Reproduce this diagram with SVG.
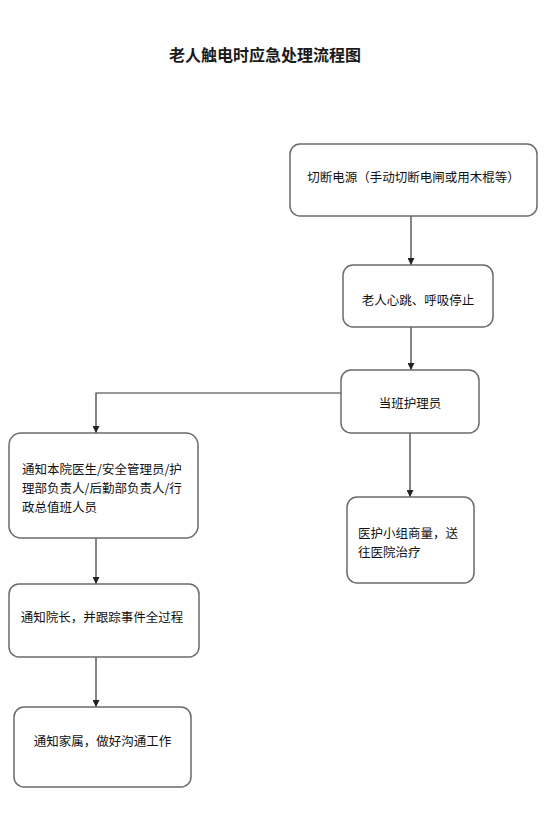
<svg xmlns="http://www.w3.org/2000/svg" width="549" height="840" viewBox="0 0 549 840">
<style>
.box{fill:#fff;stroke:#6b6b6b;stroke-width:1.5}
.t{font-family:"Noto Sans CJK SC","Liberation Sans",sans-serif;font-size:12.5px;fill:#111}
.c{text-anchor:middle}
.title{font-family:"Noto Sans CJK SC","Liberation Sans",sans-serif;font-size:16px;font-weight:bold;fill:#1a1a1a;text-anchor:middle}
.ln{fill:none;stroke:#333;stroke-width:1.2}
</style>
<defs>
<marker id="ah" viewBox="0 0 10 10" refX="10" refY="5" markerWidth="7" markerHeight="7" orient="auto" markerUnits="userSpaceOnUse">
<path d="M0,0 L10,5 L0,10 z" fill="#222"/>
</marker>
</defs>
<rect width="549" height="840" fill="#fff"/>
<text class="title" x="265" y="61">老人触电时应急处理流程图</text>
<g id="connectors">
<path class="ln" d="M411,216 V265" marker-end="url(#ah)"/>
<path class="ln" d="M411,327 V370" marker-end="url(#ah)"/>
<path class="ln" d="M341,393 H96 V433" marker-end="url(#ah)"/>
<path class="ln" d="M410,433 V497" marker-end="url(#ah)"/>
<path class="ln" d="M96,538 V584" marker-end="url(#ah)"/>
<path class="ln" d="M96,657 V707" marker-end="url(#ah)"/>
</g>
<g id="n1">
<rect class="box" x="290" y="144" width="247" height="72" rx="10"/>
<text class="t c" x="413.5" y="181.5">切断电源（手动切断电闸或用木棍等）</text>
</g>
<g id="n2">
<rect class="box" x="343" y="265" width="150" height="62" rx="10"/>
<text class="t c" x="418" y="304.5">老人心跳、呼吸停止</text>
</g>
<g id="n3">
<rect class="box" x="341" y="370" width="138" height="63" rx="10"/>
<text class="t c" x="410" y="407.5">当班护理员</text>
</g>
<g id="n4">
<rect class="box" x="9" y="433" width="189" height="105" rx="12"/>
<text class="t" x="22" y="473.5">通知本院医生/安全管理员/护</text>
<text class="t" x="22" y="492.5">理部负责人/后勤部负责人/行</text>
<text class="t" x="22" y="511.5">政总值班人员</text>
</g>
<g id="n5">
<rect class="box" x="347" y="497" width="127" height="86" rx="10"/>
<text class="t" x="358" y="537.5">医护小组商量，送</text>
<text class="t" x="358" y="556.5">往医院治疗</text>
</g>
<g id="n6">
<rect class="box" x="9" y="584" width="190" height="73" rx="10"/>
<text class="t c" x="102" y="621.5">通知院长，并跟踪事件全过程</text>
</g>
<g id="n7">
<rect class="box" x="14" y="707" width="177" height="80" rx="10"/>
<text class="t c" x="102.5" y="745.5">通知家属，做好沟通工作</text>
</g>
</svg>
